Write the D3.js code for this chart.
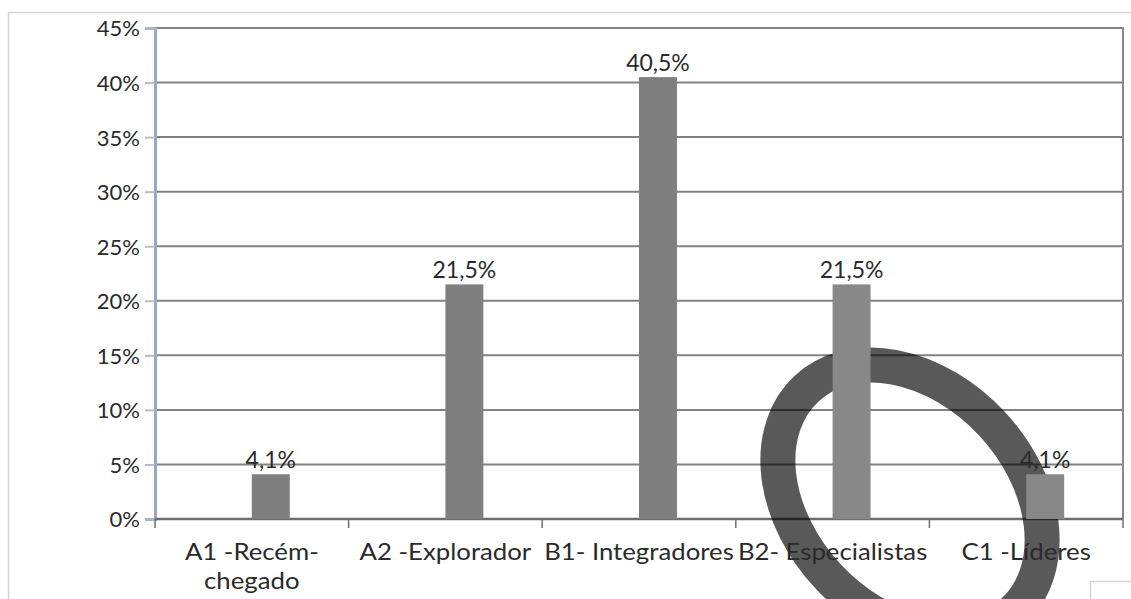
<!DOCTYPE html>
<html><head><meta charset="utf-8">
<script src="https://cdn.jsdelivr.net/npm/d3@7"></script>
<style>
html,body{margin:0;padding:0;background:#fff;overflow:hidden}
svg{display:block}
text{font-family:Lato,"Open Sans",sans-serif;fill:#2a2a2a}
</style></head>
<body>
<svg id="c" width="1131" height="599"></svg>
<script>
const categories = ["A1 -Recém-|chegado", "A2 -Explorador", "B1- Integradores", "B2- Especialistas", "C1 -Líderes"];
const values = [4.1, 21.5, 40.5, 21.5, 4.1];
const valueLabels = ["4,1%", "21,5%", "40,5%", "21,5%", "4,1%"];
const yTicks = [0, 5, 10, 15, 20, 25, 30, 35, 40, 45];
const yTickLabels = ["0%", "5%", "10%", "15%", "20%", "25%", "30%", "35%", "40%", "45%"];
const barFills = ["#7f7f7f", "#7f7f7f", "#7f7f7f", "#888888", "#888888"];

const svg = d3.select("#c");
const plot = {left: 155, right: 1123, top: 28, bottom: 519};

// outer chart frame
svg.append("rect").attr("x", 8.5).attr("y", 12.5).attr("width", 1140).attr("height", 600)
  .attr("fill", "#fff").attr("stroke", "#d4d4d4").attr("stroke-width", 1.5);

const x = d3.scaleBand().domain(categories).range([plot.left, plot.right]).padding(0);
const xi = d3.scaleBand().domain(["s0", "s1"]).range([0, x.bandwidth()]).paddingInner(0).paddingOuter(1.55);
const y = d3.scaleLinear().domain([0, 45]).range([plot.bottom, plot.top]);

// gridlines
svg.append("g").selectAll("line").data(yTicks.filter(d => d > 0)).join("line")
  .attr("x1", plot.left).attr("x2", plot.right)
  .attr("y1", d => y(d)).attr("y2", d => y(d))
  .attr("stroke", "#828282").attr("stroke-width", 2);

// right border of plot
svg.append("line").attr("x1", plot.right).attr("x2", plot.right).attr("y1", plot.top - 1).attr("y2", plot.bottom)
  .attr("stroke", "#8a8a8a").attr("stroke-width", 2);

// y axis
const yAxis = d3.axisLeft(y).tickValues(yTicks).tickFormat((d, i) => yTickLabels[i]).tickSize(10).tickPadding(5);
const gy = svg.append("g").attr("transform", `translate(${plot.left},0)`).call(yAxis);
gy.select(".domain").attr("stroke", "#9aa8c0").attr("stroke-width", 3);
gy.selectAll(".tick line").attr("stroke", "#b4bccb").attr("stroke-width", 2);
gy.selectAll(".tick text").attr("font-size", 22).attr("fill", "#2a2a2a").attr("dy", "0.36em")
  .style("font-family", "Lato");

// x axis line and ticks at category boundaries
svg.append("line").attr("x1", plot.left).attr("x2", plot.right).attr("y1", plot.bottom).attr("y2", plot.bottom)
  .attr("stroke", "#6e6e6e").attr("stroke-width", 2.5);
const bounds = categories.map(c => x(c)).concat([x(categories[categories.length - 1]) + x.bandwidth()]);
svg.append("g").selectAll("line").data(bounds).join("line")
  .attr("x1", d => d).attr("x2", d => d).attr("y1", plot.bottom).attr("y2", plot.bottom + 9)
  .attr("stroke", "#6e6e6e").attr("stroke-width", 1.5);

// annotation ring (drawn over grid, under bars and text)
svg.append("ellipse").attr("cx", 0).attr("cy", 0).attr("rx", 152).attr("ry", 112)
  .attr("transform", "translate(910,500) rotate(47)")
  .attr("fill", "none").attr("stroke", "#000").attr("stroke-opacity", 0.65).attr("stroke-width", 35);

// bars
svg.append("g").selectAll("rect").data(values).join("rect")
  .attr("x", (d, i) => x(categories[i]) + xi("s1"))
  .attr("width", xi.bandwidth())
  .attr("y", d => y(d))
  .attr("height", d => y(0) - y(d))
  .attr("fill", (d, i) => barFills[i]);

// value labels
svg.append("g").selectAll("text").data(values).join("text")
  .attr("x", (d, i) => x(categories[i]) + xi("s1") + xi.bandwidth() / 2)
  .attr("y", d => y(d) - 6)
  .attr("text-anchor", "middle").attr("font-size", 23)
  .text((d, i) => valueLabels[i]);

// category labels
const cl = svg.append("g").selectAll("text").data(categories).join("text")
  .attr("transform", d => `translate(${x(d) + x.bandwidth() / 2},560) scale(1.12,1)`)
  .attr("text-anchor", "middle").attr("font-size", 23);
cl.each(function(d) {
  const t = d3.select(this);
  d.split("|").forEach((p, k) => {
    t.append("tspan").attr("x", 0).attr("dy", k === 0 ? 0 : 29).text(p);
  });
});

// small box bottom-right
svg.append("rect").attr("x", 1090.5).attr("y", 581.5).attr("width", 60).attr("height", 30)
  .attr("fill", "#fff").attr("stroke", "#d4d4d4").attr("stroke-width", 1.5);
</script>
</body></html>
